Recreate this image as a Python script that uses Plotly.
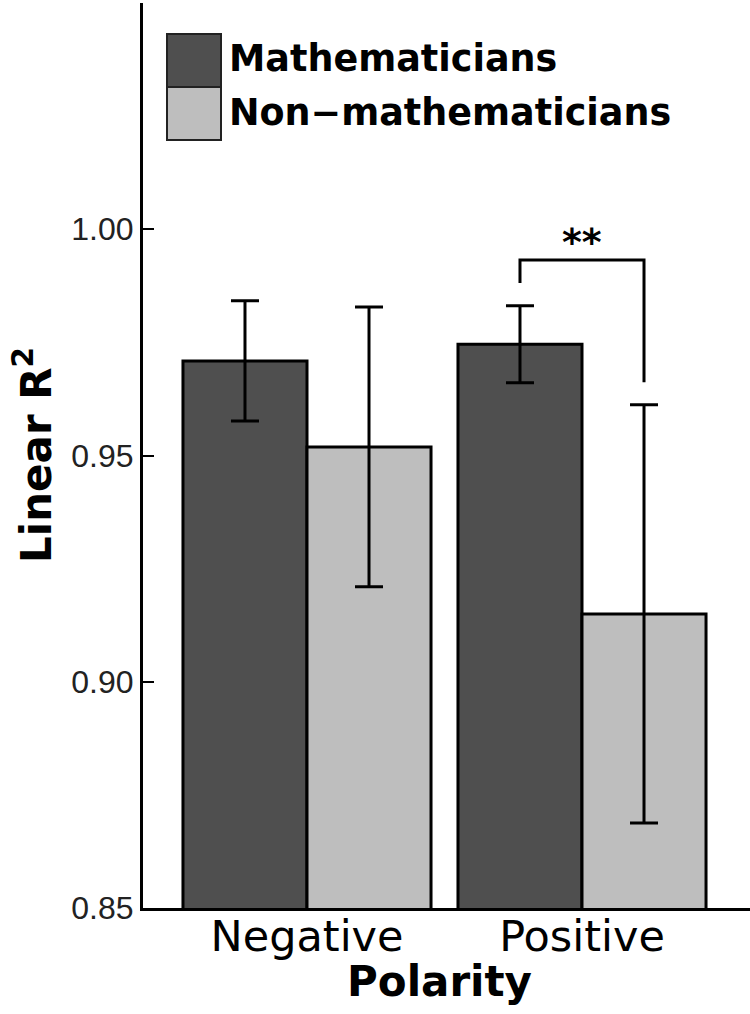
import plotly.graph_objects as go

# ---- data ----
categories = ["Negative", "Positive"]
series_names = ["Mathematicians", "Non\u2212mathematicians"]
math_values = [0.9709, 0.9746]
math_errors = [0.0133, 0.0085]
nonmath_values = [0.9519, 0.9150]
nonmath_errors = [0.0309, 0.0462]
y_ticks = [0.85, 0.90, 0.95, 1.00]
y_tick_labels = ["0.85", "0.90", "0.95", "1.00"]
# significance bracket between Positive bars: left end, top, right end
bracket_y = [0.9881, 0.9932, 0.9662]
sig_label = "**"

colors = ["#4f4f4f", "#bebebe"]
BARGAP = 0.098
x_pos = list(range(len(categories)))

fig = go.Figure()
fig.add_trace(go.Bar(
    x=x_pos, y=math_values, name=series_names[0],
    marker=dict(color=colors[0], line=dict(color="black", width=3)),
    error_y=dict(type="data", array=math_errors, color="black", thickness=3, width=14),
    showlegend=False,
))
fig.add_trace(go.Bar(
    x=x_pos, y=nonmath_values, name=series_names[1],
    marker=dict(color=colors[1], line=dict(color="black", width=3)),
    error_y=dict(type="data", array=nonmath_errors, color="black", thickness=3, width=14),
    showlegend=False,
))

# bracket: centers of the two Positive bars (grouped bar offsets)
half = (1 - BARGAP) / 4
xl = x_pos[1] - half
xr = x_pos[1] + half
fig.add_trace(go.Scatter(
    x=[xl, xl, xr, xr], y=[bracket_y[0], bracket_y[1], bracket_y[1], bracket_y[2]],
    mode="lines", line=dict(color="black", width=3), showlegend=False, hoverinfo="skip",
))
fig.add_annotation(x=x_pos[1], y=bracket_y[1], xref="x", yref="y", text="<b>" + sig_label + "</b>",
                   showarrow=False, yanchor="bottom", yshift=-6,
                   font=dict(family="DejaVu Sans", size=38, color="black"))

# ---- layout geometry (pixels) ----
W, H = 750, 1014
L, R, T, B = 143, 0, 3, 106
PW, PH = W - L - R, H - T - B

def px(xp):
    return (xp - L) / PW

def py(yp):
    return (H - B - yp) / PH

# custom legend (large swatches)
legend_boxes = [(167, 34, 221, 87), (167, 87, 221, 140)]
legend_text_y = [59, 112]
for i, (x0, y0, x1, y1) in enumerate(legend_boxes):
    fig.add_shape(type="rect", xref="paper", yref="paper",
                  x0=px(x0), x1=px(x1), y0=py(y1), y1=py(y0),
                  fillcolor=colors[i], line=dict(color="#222", width=2))
    fig.add_annotation(xref="paper", yref="paper", x=px(227), y=py(legend_text_y[i]),
                       text="<b>" + series_names[i] + "</b>", showarrow=False,
                       xanchor="left", yanchor="middle",
                       font=dict(family="DejaVu Sans", size=36.5, color="black"))

# axis titles
fig.add_annotation(xref="paper", yref="paper", x=px(33), y=py(455),
                   text="<b>Linear R<sup>2</sup></b>", showarrow=False, textangle=-90,
                   xanchor="center", yanchor="middle",
                   font=dict(family="DejaVu Sans", size=42, color="black"))
fig.add_annotation(xref="paper", yref="paper", x=px(439), y=py(981),
                   text="<b>Polarity</b>", showarrow=False,
                   xanchor="center", yanchor="middle",
                   font=dict(family="DejaVu Sans", size=42, color="black"))

fig.update_layout(
    width=W, height=H,
    margin=dict(l=L, r=R, t=T, b=B, pad=0),
    paper_bgcolor="white", plot_bgcolor="white",
    barmode="group", bargap=BARGAP, bargroupgap=0,
    showlegend=False,
)
fig.update_xaxes(
    range=[x_pos[0] - (307 - L) / 275, x_pos[1] + (W - 582) / 275],
    tickvals=x_pos, ticktext=categories, ticks="",
    showline=True, linecolor="black", linewidth=3,
    showgrid=False, zeroline=False,
    ticklabelstandoff=-12,
    tickfont=dict(family="DejaVu Sans", size=43, color="black"),
)
fig.update_yaxes(
    range=[0.85, 1.05],
    tickvals=y_ticks, ticktext=y_tick_labels,
    ticks="inside", ticklen=11, tickwidth=2, tickcolor="black",
    showline=True, linecolor="black", linewidth=3,
    showgrid=False, zeroline=False,
    tickfont=dict(family="Liberation Sans", size=32, color="#222"),
)

fig.write_html("out.html", config={"displayModeBar": False},
               post_script="document.body.style.margin='0';")
